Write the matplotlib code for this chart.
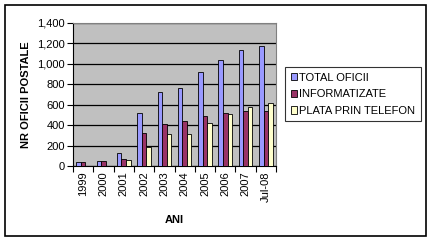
import matplotlib
matplotlib.use("Agg")
import matplotlib.pyplot as plt
from matplotlib.patches import Rectangle
import numpy as np

plt.rcParams['font.family'] = ['Liberation Sans', 'DejaVu Sans']

categories = ["1999", "2000", "2001", "2002", "2003", "2004", "2005", "2006", "2007", "Jul-08"]
total_oficii = [35, 46, 124, 516, 728, 761, 920, 1035, 1133, 1172]
informatizate = [35, 46, 65, 320, 408, 438, 487, 516, 542, 542]
plata_telefon = [0, 0, 56, 186, 310, 310, 418, 506, 575, 614]
series_names = ["TOTAL OFICII", "INFORMATIZATE", "PLATA PRIN TELEFON"]
colors = ["#9999FF", "#993366", "#FFFFCC"]
yticks = [0, 200, 400, 600, 800, 1000, 1200, 1400]

W, H = 433, 242
fig = plt.figure(figsize=(W / 100, H / 100), dpi=100)
fig.patches.append(Rectangle((5 / W, 1 - 236 / H), 421 / W, 231 / H, transform=fig.transFigure,
                             fill=False, edgecolor="black", linewidth=1.2))

ax = fig.add_axes([73 / W, 1 - 166 / H, (276 - 73) / W, (166 - 23) / H])
ax.set_facecolor("#C0C0C0")
x = np.arange(len(categories))
bw = 0.222
handles = []
for i, (vals, c) in enumerate(zip([total_oficii, informatizate, plata_telefon], colors)):
    h = ax.bar(x + (i - 1) * bw, vals, bw, color=c, edgecolor="black", linewidth=0.6,
               label=series_names[i], zorder=3)
    handles.append(h)

ax.set_xlim(-0.5, len(categories) - 0.5)
ax.set_ylim(0, 1400)
ax.set_yticks(yticks)
ax.set_yticklabels([f"{v:,}" for v in yticks], fontsize=8)
ax.yaxis.grid(True, color="black", linewidth=0.9, zorder=1)
ax.set_axisbelow(True)
ax.set_xticks(np.arange(len(categories) + 1) - 0.5)
ax.set_xticklabels([])
ax.set_xticks(x, minor=True)
ax.set_xticklabels(categories, minor=True, rotation=90, fontsize=8)
ax.tick_params(axis="x", which="minor", length=0, pad=4)
ax.tick_params(axis="x", which="major", length=4, direction="out", color="black")
ax.tick_params(axis="y", length=4, direction="out", pad=2)
for s in ["top", "right"]:
    ax.spines[s].set_color("#808080")
for s in ["left", "bottom"]:
    ax.spines[s].set_color("black")

ax.set_ylabel("NR OFICII POSTALE", fontsize=8, fontweight="bold", labelpad=4)
ax.set_xlabel("ANI", fontsize=8, fontweight="bold", labelpad=9)

leg = fig.legend(handles=handles, loc="upper left", bbox_to_anchor=(285 / W, 1 - 67 / H),
                 fontsize=8, frameon=True, fancybox=False, edgecolor="black",
                 handlelength=0.6, handleheight=0.6, handletextpad=0.2, labelspacing=0.6,
                 borderpad=0.5, borderaxespad=0)
leg.get_frame().set_linewidth(0.8)

fig.savefig("out.png", dpi=100)
